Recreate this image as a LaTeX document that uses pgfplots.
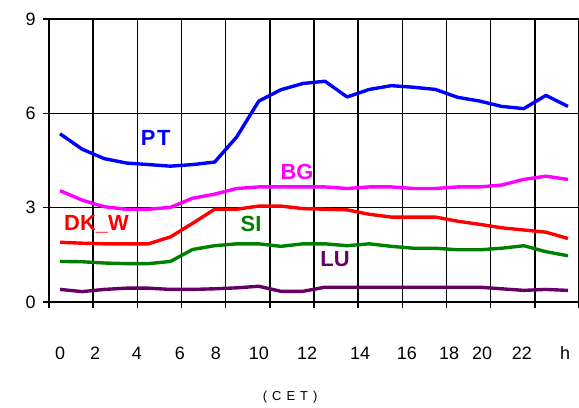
\documentclass[border=0pt]{standalone}
\usepackage{pgfplots}
\pgfplotsset{compat=1.18}
\usepackage{fontspec}
\setmainfont{Liberation Sans}

\definecolor{ptblue}{RGB}{0,0,255}
\definecolor{bgmag}{RGB}{255,0,255}
\definecolor{dkred}{RGB}{255,0,0}
\definecolor{sigreen}{RGB}{0,128,0}
\definecolor{lupurple}{RGB}{102,0,102}
\tikzset{hour/.style={font=\fontsize{18}{20}\selectfont},
         series/.style={font=\fontsize{22}{24}\selectfont\bfseries}}

\begin{document}
\begin{tikzpicture}
\useasboundingbox (0,0) rectangle (579bp,408bp);
\begin{axis}[
    at={(49bp,106bp)}, anchor=south west,
    scale only axis,
    width=530bp, height=283bp,
    xmin=-0.5, xmax=23.5,
    ymin=0, ymax=9,
    clip=false,
    axis x line*=bottom,
    axis y line*=left,
    axis line style={black, line width=1.5pt},
    xtick={-0.5,1.5,3.5,5.5,7.5,9.5,11.5,13.5,15.5,17.5,19.5,21.5,23.5},
    xticklabels={},
    ytick={0,3,6,9},
    xmajorgrids, ymajorgrids,
    major grid style={black, line width=1.5pt},
    tick align=outside,
    major tick length=6bp,
    tick style={black, line width=1.5pt},
    yticklabel style={font=\fontsize{18}{20}\selectfont, xshift=-4bp},
    /pgf/number format/assume math mode=true,
    every axis plot/.append style={line width=3.4pt, no markers, line join=round},
]
\addplot[ptblue] coordinates {
(0,5.35) (1,4.86) (2,4.56) (3,4.42) (4,4.37) (5,4.32) (6,4.37) (7,4.45)
(8,5.25) (9,6.39) (10,6.75) (11,6.95) (12,7.02) (13,6.52) (14,6.76) (15,6.88)
(16,6.83) (17,6.76) (18,6.51) (19,6.39) (20,6.22) (21,6.15) (22,6.57) (23,6.22)};
\addplot[bgmag] coordinates {
(0,3.54) (1,3.24) (2,3.03) (3,2.95) (4,2.95) (5,3.01) (6,3.30) (7,3.43)
(8,3.61) (9,3.66) (10,3.66) (11,3.66) (12,3.66) (13,3.61) (14,3.66) (15,3.66)
(16,3.61) (17,3.61) (18,3.66) (19,3.66) (20,3.72) (21,3.90) (22,4.00) (23,3.90)};
\addplot[dkred] coordinates {
(0,1.90) (1,1.87) (2,1.85) (3,1.85) (4,1.85) (5,2.07) (6,2.50) (7,2.95)
(8,2.95) (9,3.05) (10,3.05) (11,2.97) (12,2.95) (13,2.93) (14,2.79) (15,2.70)
(16,2.70) (17,2.70) (18,2.57) (19,2.47) (20,2.36) (21,2.29) (22,2.22) (23,2.02)};
\addplot[sigreen] coordinates {
(0,1.29) (1,1.28) (2,1.24) (3,1.22) (4,1.22) (5,1.29) (6,1.67) (7,1.79)
(8,1.85) (9,1.85) (10,1.77) (11,1.85) (12,1.85) (13,1.79) (14,1.85) (15,1.77)
(16,1.71) (17,1.71) (18,1.66) (19,1.66) (20,1.71) (21,1.79) (22,1.60) (23,1.47)};
\addplot[lupurple] coordinates {
(0,0.40) (1,0.33) (2,0.40) (3,0.44) (4,0.44) (5,0.40) (6,0.40) (7,0.42)
(8,0.45) (9,0.50) (10,0.34) (11,0.34) (12,0.47) (13,0.47) (14,0.47) (15,0.47)
(16,0.47) (17,0.47) (18,0.47) (19,0.47) (20,0.42) (21,0.37) (22,0.40) (23,0.37)};

% series labels
\node[series, text=ptblue]   at (axis cs:4.33,5.22) {P\hspace{1.5bp}T};
\node[series, text=bgmag]    at (axis cs:10.73,4.14) {BG};
\node[series, text=dkred]    at (axis cs:1.65,2.47) {DK\_W};
\node[series, text=sigreen]  at (axis cs:8.65,2.49) {SI};
\node[series, text=lupurple] at (axis cs:12.45,1.38) {LU};

% hour labels below the axis
\node[hour] at (rel axis cs:0.0208,-0.18) {0};
\node[hour] at (rel axis cs:0.0868,-0.18) {2};
\node[hour] at (rel axis cs:0.166,-0.18) {4};
\node[hour] at (rel axis cs:0.247,-0.18) {6};
\node[hour] at (rel axis cs:0.315,-0.18) {8};
\node[hour] at (rel axis cs:0.396,-0.18) {10};
\node[hour] at (rel axis cs:0.487,-0.18) {12};
\node[hour] at (rel axis cs:0.587,-0.18) {14};
\node[hour] at (rel axis cs:0.675,-0.18) {16};
\node[hour] at (rel axis cs:0.755,-0.18) {18};
\node[hour] at (rel axis cs:0.817,-0.18) {20};
\node[hour] at (rel axis cs:0.892,-0.18) {22};
\node[hour] at (rel axis cs:0.974,-0.18) {h};
\node[font=\fontsize{13}{15}\selectfont] at (rel axis cs:0.455,-0.336)
  {(\hspace{5bp}C\hspace{5bp}E\hspace{5bp}T\hspace{5bp})};
\end{axis}
\end{tikzpicture}
\end{document}
